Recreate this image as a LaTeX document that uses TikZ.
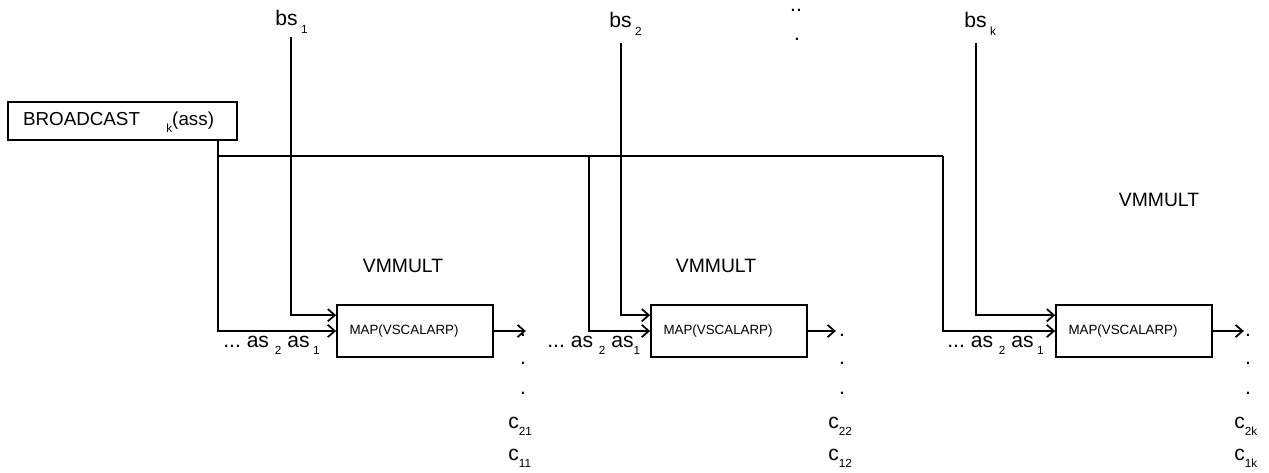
\documentclass[tikz,border=0pt]{standalone}
\usepackage{fontspec}
\setmainfont{Liberation Sans}
\usetikzlibrary{arrows.meta, positioning}
\newcommand{\lowidx}[1]{\raisebox{-0.7ex}{\fontsize{6.7}{7}\selectfont #1}}
\tikzset{
  caja/.style={draw, line width=1pt, minimum width=3.12cm, minimum height=1.04cm,
    inner xsep=0.25cm, text width=2.62cm, align=left, font=\fontsize{7.6}{9}\selectfont},
  flecha/.style={line width=1pt, -{Straight Barb[length=4pt, width=7pt]}},
  linea/.style={line width=1pt},
  etiq/.style={font=\fontsize{12}{14}\selectfont, inner sep=0pt},
  titulo/.style={font=\fontsize{11}{13}\selectfont, inner sep=0pt},
  punto/.style={font=\fontsize{12}{14}\selectfont, inner sep=0pt}
}
\begin{document}
\begin{tikzpicture}[x=0.02cm, y=-0.02cm]
\useasboundingbox (0,0) rectangle (1269,473);
% caja de difusion
\node[draw, line width=1pt, minimum width=4.58cm, minimum height=0.76cm, inner xsep=0.3cm,
  text width=3.98cm, align=left, font=\fontsize{10.7}{12}\selectfont] (bc) at (122.5,121)
  {BROADCAST\hspace{15pt}\smash{\lowidx{k}}(ass)};
% las tres cajas MAP
\node[caja] (m1) at (415,331) {MAP(VSCALARP)};
\node[caja] (m2) at (729,331) {MAP(VSCALARP)};
\node[caja] (m3) at (1134,331) {MAP(VSCALARP)};
\node[titulo] (v1) at (403,266) {VMMULT};
\node[titulo] (v2) at (716,266) {VMMULT};
\node[titulo] (v3) at (1159,200) {VMMULT};
% entradas bs
\node[etiq, anchor=base west] (bs1) at (275,26) {bs\,\lowidx{1}};
\node[etiq, anchor=base west] (bs2) at (609,28) {bs\,\lowidx{2}};
\node[etiq, anchor=base west] (bsk) at (964,28) {bs\,\lowidx{k}};
\node[punto] (e1) at (796,10) {..};
\node[punto] (e2) at (797,39) {.};
\coordinate (t1) at (291,37);
\coordinate (t2) at (621,43);
\coordinate (t3) at (976,43);
\draw[flecha] (t1) |- ([yshift=9pt]m1.west);
\draw[flecha] (t2) |- ([yshift=9pt]m2.west);
\draw[flecha] (t3) |- ([yshift=9pt]m3.west);
% reparto de as
\coordinate (j1) at (218,156);
\coordinate (j2) at (589,156);
\coordinate (j3) at (943,156);
\draw[flecha] (bc.south -| j1) -- (j1) |- (m1.west);
\draw[linea] (j1) -- (j3);
\draw[flecha] (j2) |- (m2.west);
\draw[flecha] (j3) |- (m3.west);
\node[etiq, anchor=base west] (a1) at (223,347) {...\ as\ \lowidx{2}\ as\,\lowidx{1}};
\node[etiq, anchor=base west] (a2) at (547,347) {...\ as\ \lowidx{2}\ as\lowidx{1}};
\node[etiq, anchor=base west] (a3) at (947,347) {...\ as\ \lowidx{2}\ as\,\lowidx{1}};
% salidas
\draw[flecha] (m1.east) -- ++(32,0) coordinate (o1);
\draw[flecha] (m2.east) -- ++(28,0) coordinate (o2);
\draw[flecha] (m3.east) -- ++(31,0) coordinate (o3);
\foreach \xd/\xc/\n in {523/508/1, 842/828/2, 1248/1234/k} {
  \node[punto] (pa\n) at (\xd,335) {.};
  \node[punto] (pb\n) at (\xd,363) {.};
  \node[punto] (pc\n) at (\xd,393) {.};
  \node[etiq, anchor=base west] (c2\n) at (\xc,428) {c\lowidx{2\n}};
  \node[etiq, anchor=base west] (c1\n) at (\xc,460) {c\lowidx{1\n}};
}
\end{tikzpicture}
\end{document}
